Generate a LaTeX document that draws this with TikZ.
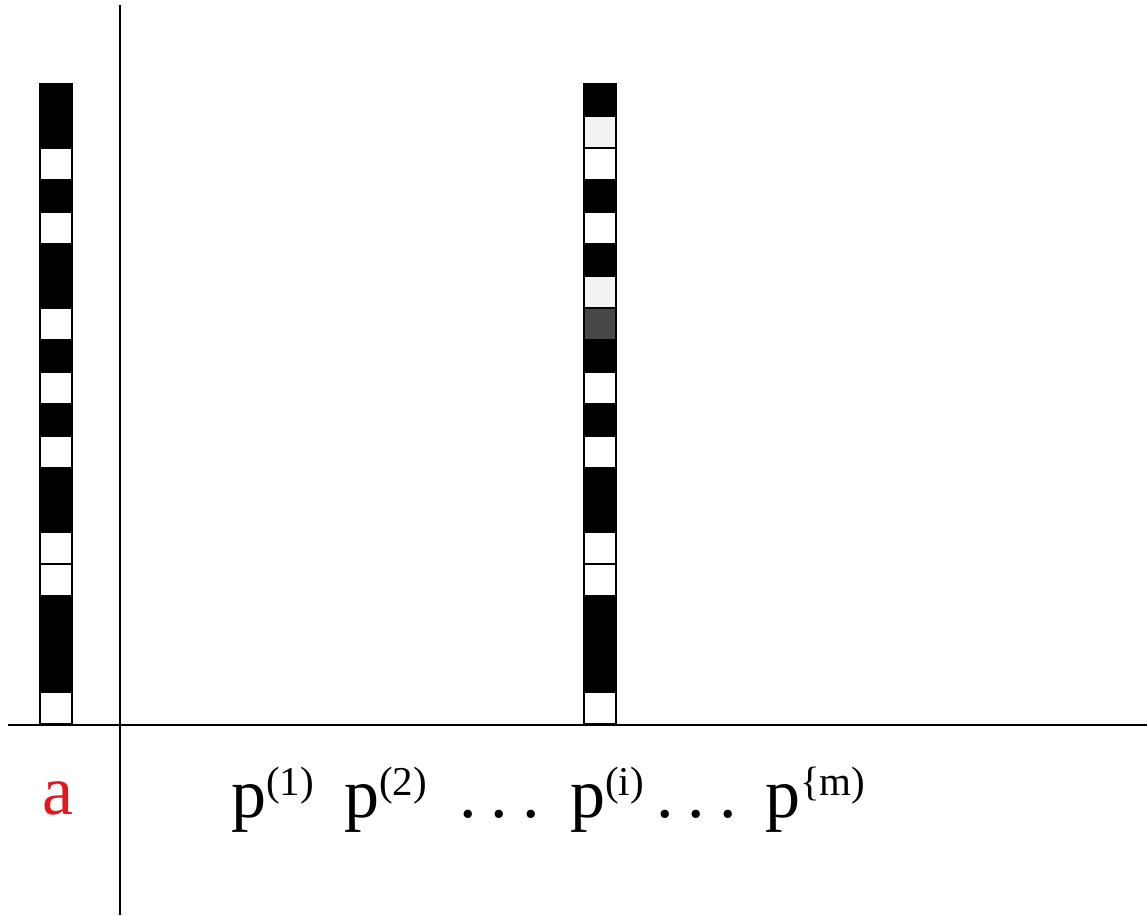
\documentclass[tikz,border=0pt]{standalone}
\usepackage{fontspec}
\setmainfont{Liberation Serif}
\definecolor{cellgray}{HTML}{F3F3F3}
\definecolor{celldark}{HTML}{474747}
\definecolor{labelred}{HTML}{E3171C}
\tikzset{
  cell/.style={draw, line width=1.2pt, minimum width=32pt, minimum height=32pt, inner sep=0pt, outer sep=0pt},
  lbl/.style={anchor=base west, inner sep=0pt, font=\fontsize{70}{70}\selectfont},
  axis/.style={line width=2pt}
}
\newcommand{\pidx}[1]{p\raisebox{22pt}{\fontsize{41}{41}\selectfont #1}}
\newcommand{\gapdots}{.\hspace{14pt}.\hspace{14pt}.}

\begin{document}
\begin{tikzpicture}[x=1pt,y=-1pt]
 \useasboundingbox (0,0) rectangle (1147,915);

% COLUMN a
 \foreach \c [count=\i] in {black,black,white,black,white,black,black,white,black,white,
                            black,white,black,black,white,white,black,black,black,white}
   \node[cell, fill=\c] (a\i) at (56,68+32*\i) {};

% COLUMN p(i)
 \foreach \c [count=\i] in {black,cellgray,white,black,white,black,cellgray,celldark,black,white,
                            black,white,black,black,white,white,black,black,black,white}
   \node[cell, fill=\c] (p\i) at (600,68+32*\i) {};

% AXES
 \coordinate (vtop) at (120,5);
 \coordinate (vbot) at (120,915);
 \coordinate (hleft) at (8,725);
 \coordinate (hright) at (1147,725);
 \draw[axis] (vtop) -- (vbot);
 \draw[axis] (hleft) -- (hright);

% LABELS
 \node[lbl, text=labelred] (la) at (42,814) {a};
 \node[lbl] (lp1) at (231,817) {\pidx{(1)}};
 \node[lbl] (lp2) at (344,817) {\pidx{(2)}};
 \node[lbl] (ldots1) at (459,817) {\gapdots};
 \node[lbl] (lpi) at (570,817) {\pidx{(i)}};
 \node[lbl] (ldots2) at (656,817) {\gapdots};
 \node[lbl] (lpm) at (765,817) {\pidx{\{m)}};

\end{tikzpicture}
\end{document}
